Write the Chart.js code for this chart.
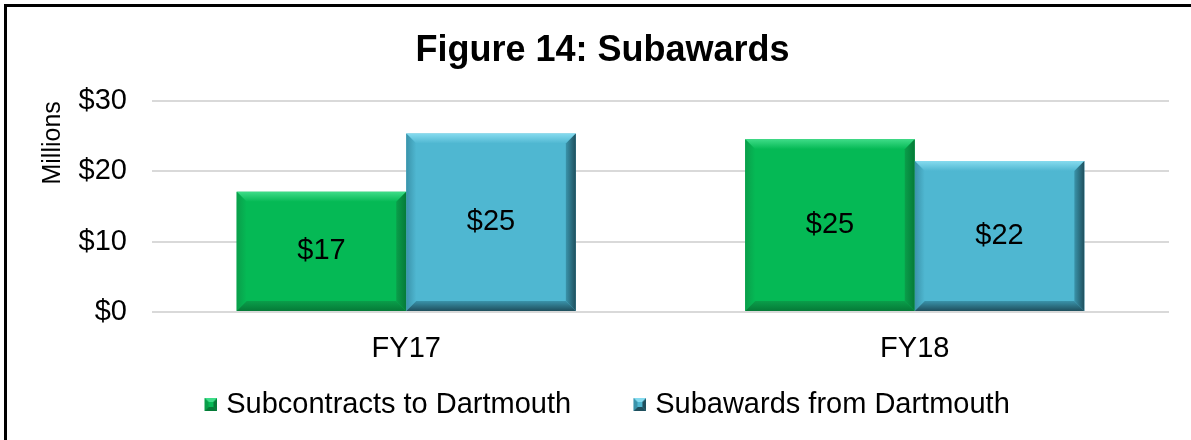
<!DOCTYPE html>
<html>
<head>
<meta charset="utf-8">
<script src="https://cdn.jsdelivr.net/npm/chart.js@4.4.1/dist/chart.umd.min.js"></script>
<style>
  html, body { margin: 0; padding: 0; background: #fff; overflow: hidden; }
  #wrap { position: relative; width: 1191px; height: 440px; }
  #frame {
    position: absolute; left: 4px; top: 4px; width: 1200px; height: 450px;
    border-left: 3px solid #000; border-top: 3px solid #000; pointer-events: none;
  }
</style>
</head>
<body>
<div id="wrap">
  <canvas id="chart" width="1191" height="440"></canvas>
  <div id="frame"></div>
</div>
<script>
const categories = ['FY17', 'FY18'];
const seriesNames = ['Subcontracts to Dartmouth', 'Subawards from Dartmouth'];
const subcontracts = [17.1, 24.6];
const subawards = [25.4, 21.5];
const yTicks = [0, 10, 20, 30];

const FONT = "'Liberation Sans', Arial, sans-serif";

// face / light / side / dark shades for the bevelled bars
const palette = [
  { face: '#05b955', light: '#3fdc88', side: '#0a9e4a', dark: '#057a37' },
  { face: '#4fb7d1', light: '#86dbef', side: '#3a93aa', dark: '#1f4f5d' }
];

// small bevelled legend marker, drawn at the right end of a wider transparent canvas
function makeMarker(p, w) {
  const c = document.createElement('canvas');
  c.width = w; c.height = 13;
  const g = c.getContext('2d');
  const x0 = w - 13, s = 13, b = 4;
  g.fillStyle = p.face; g.fillRect(x0, 0, s, s);
  g.fillStyle = p.light;
  g.beginPath(); g.moveTo(x0, 0); g.lineTo(x0 + s, 0); g.lineTo(x0 + s - b, b); g.lineTo(x0 + b, b); g.closePath(); g.fill();
  g.fillStyle = p.dark;
  g.beginPath(); g.moveTo(x0 + s, 0); g.lineTo(x0 + s, s); g.lineTo(x0 + s - b, s - b); g.lineTo(x0 + s - b, b); g.closePath(); g.fill();
  g.beginPath(); g.moveTo(x0, s); g.lineTo(x0 + s, s); g.lineTo(x0 + s - b, s - b); g.lineTo(x0 + b, s - b); g.closePath(); g.fill();
  g.fillStyle = p.side;
  g.beginPath(); g.moveTo(x0, 0); g.lineTo(x0 + b, b); g.lineTo(x0 + b, s - b); g.lineTo(x0, s); g.closePath(); g.fill();
  return c;
}
const BOXW = 16.5;
const markers = palette.map(p => makeMarker(p, 28));

function poly(ctx, pts, fill) {
  ctx.fillStyle = fill;
  ctx.beginPath();
  ctx.moveTo(pts[0][0], pts[0][1]);
  for (let i = 1; i < pts.length; i++) ctx.lineTo(pts[i][0], pts[i][1]);
  ctx.closePath();
  ctx.fill();
}

// bevel edges and the value labels on top of each bar
const bevelPlugin = {
  id: 'bevel',
  afterDatasetsDraw(chart) {
    const ctx = chart.ctx;
    chart.data.datasets.forEach((ds, di) => {
      const meta = chart.getDatasetMeta(di);
      const p = palette[di];
      meta.data.forEach((bar, i) => {
        const l = bar.x - bar.width / 2, r = bar.x + bar.width / 2;
        const t = bar.y, btm = bar.base, b = 10;
        ctx.save();
        let gr = ctx.createLinearGradient(0, t, 0, t + b);
        gr.addColorStop(0, p.light); gr.addColorStop(1, p.face);
        poly(ctx, [[l, t], [r, t], [r - b, t + b], [l + b, t + b]], gr);
        gr = ctx.createLinearGradient(l, 0, l + b, 0);
        gr.addColorStop(0, p.side); gr.addColorStop(1, p.face);
        poly(ctx, [[l, t], [l + b, t + b], [l + b, btm - b], [l, btm]], gr);
        gr = ctx.createLinearGradient(r - b, 0, r, 0);
        gr.addColorStop(0, p.side); gr.addColorStop(1, p.dark);
        poly(ctx, [[r, t], [r, btm], [r - b, btm - b], [r - b, t + b]], gr);
        gr = ctx.createLinearGradient(0, btm - b, 0, btm);
        gr.addColorStop(0, p.side); gr.addColorStop(1, p.dark);
        poly(ctx, [[l, btm], [r, btm], [r - b, btm - b], [l + b, btm - b]], gr);

        ctx.fillStyle = '#000';
        ctx.font = '29px ' + FONT;
        ctx.textAlign = 'center';
        ctx.textBaseline = 'middle';
        ctx.fillText('$' + Math.round(ds.data[i]), bar.x, (t + btm) / 2);
        ctx.restore();
      });
    });
  }
};

new Chart(document.getElementById('chart'), {
  type: 'bar',
  data: {
    labels: categories,
    datasets: [
      { label: seriesNames[0], data: subcontracts, backgroundColor: palette[0].face, borderWidth: 0 },
      { label: seriesNames[1], data: subawards, backgroundColor: palette[1].face, borderWidth: 0 }
    ]
  },
  plugins: [bevelPlugin],
  options: {
    responsive: false,
    animation: false,
    devicePixelRatio: 1,
    layout: { padding: { left: 36, right: 22, top: 0, bottom: 11 } },
    datasets: { bar: { categoryPercentage: 0.667, barPercentage: 1 } },
    plugins: {
      title: {
        display: true,
        text: 'Figure 14: Subawards',
        color: '#000',
        font: { family: FONT, size: 36, weight: 'bold' },
        padding: { top: 29, bottom: 29 }
      },
      legend: {
        position: 'bottom',
        // empty title with negative padding pulls the row up, so the wide item gap
        // does not push the labels down
        title: { display: true, text: '', font: { size: 1 }, padding: { top: -37.2, bottom: 0 } },
        labels: {
          usePointStyle: true,
          pointStyleWidth: BOXW,
          color: '#000',
          font: { family: FONT, size: 29 },
          padding: 53,
          generateLabels: chart =>
            Chart.defaults.plugins.legend.labels.generateLabels(chart)
              .map((item, i) => ({ ...item, pointStyle: markers[i] }))
        }
      },
      tooltip: { enabled: false }
    },
    scales: {
      x: {
        grid: { display: false, drawTicks: false },
        border: { display: false },
        ticks: { color: '#000', padding: 20, font: { family: FONT, size: 29 } },
        afterFit: scale => { scale.height = 61; }
      },
      y: {
        min: 0,
        max: 30,
        afterBuildTicks: scale => { scale.ticks = yTicks.map(v => ({ value: v })); },
        grid: { color: '#d9d9d9', lineWidth: 2, drawTicks: false },
        border: { display: false },
        ticks: {
          color: '#000',
          padding: 25,
          font: { family: FONT, size: 29 },
          callback: value => '$' + value
        },
        title: {
          display: true,
          text: 'Millions',
          align: 'end',
          color: '#000',
          font: { family: FONT, size: 25 },
          padding: { top: 2, bottom: 0 }
        },
        afterFit: scale => { scale.width = 116; }
      }
    }
  }
});
</script>
</body>
</html>
